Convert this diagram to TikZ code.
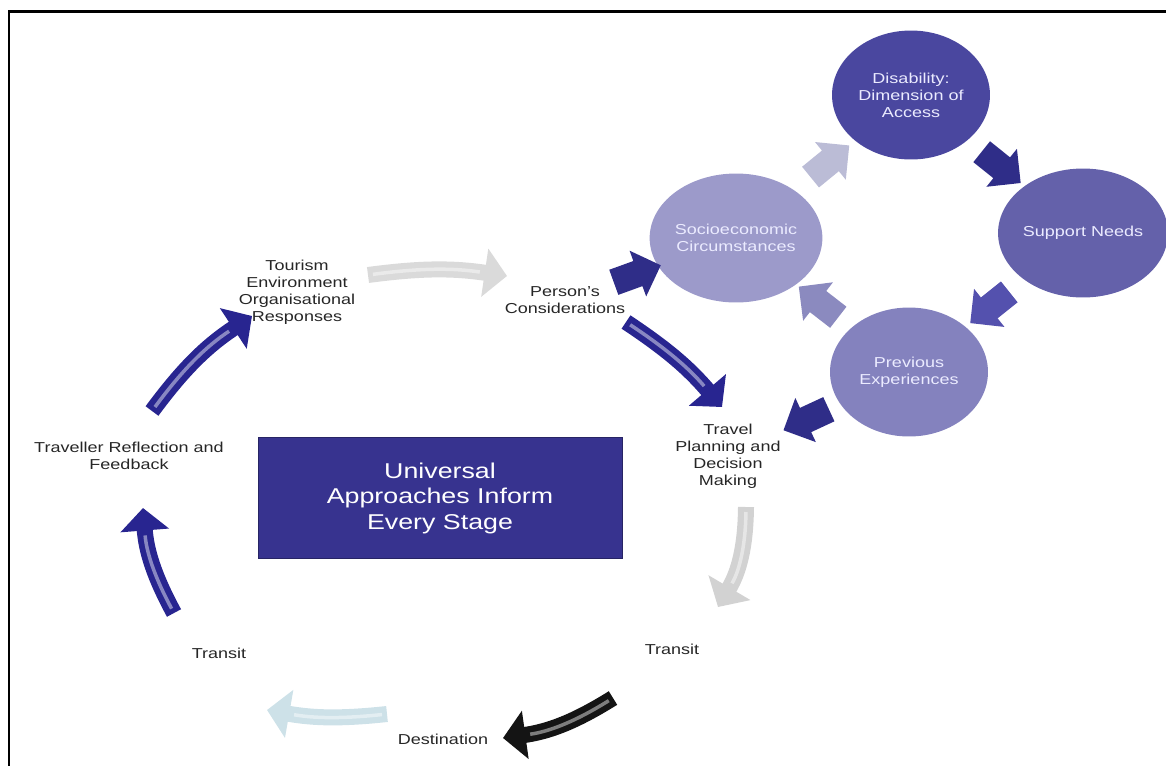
\documentclass[tikz,border=0pt]{standalone}
\usepackage{fontspec}
\setmainfont{Liberation Sans}[FakeStretch=1.25]
\usetikzlibrary{arrows.meta,shapes.geometric,shapes.arrows}
\definecolor{boxblue}{HTML}{37338F}
\definecolor{deepblue}{HTML}{282590}
\definecolor{disabc}{HTML}{4A479F}
\definecolor{supportc}{HTML}{6461AA}
\definecolor{socioc}{HTML}{9C9ACA}
\definecolor{prevc}{HTML}{8482BE}
\definecolor{paleblk}{HTML}{BBBCD6}
\definecolor{deepblk}{HTML}{2F2D88}
\definecolor{midblk}{HTML}{5451AE}
\definecolor{prevblk}{HTML}{8B8ABF}
\definecolor{lightgrey}{HTML}{DADADA}
\definecolor{midgrey}{HTML}{D2D2D2}
\definecolor{icecyan}{HTML}{CDE1E8}
\definecolor{nearblack}{HTML}{141414}

\begin{document}
\begin{tikzpicture}[x=0.02cm,y=-0.02cm,
   every node/.style={font=\fontsize{8.2}{9.7}\selectfont},
   lbl/.style={align=center,text=black!85,inner sep=2pt},
   bubble/.style={ellipse,fill=#1,minimum width=3.16cm,minimum height=2.58cm,
     inner sep=0pt,align=center,text=white!92!blue},
   blk/.style={single arrow,fill=#1,minimum height=1.0cm,inner xsep=0pt,
     inner ysep=0.26cm,single arrow head extend=0.22cm,sloped,allow upside down},
   cyc/.style={draw=#1,line width=0.32cm,-{Triangle[length=0.45cm,width=0.95cm]},
     postaction={draw=white,draw opacity=0.45,line width=0.07cm,-,
       shorten >=0.55cm,shorten <=0.1cm}},
   box/.style={fill=boxblue,draw=boxblue!70!black,minimum width=7.28cm,
     minimum height=2.42cm,align=center,text=white,
     font=\fontsize{12.2}{14.5}\selectfont}]
  \useasboundingbox (0,0) rectangle (1166,765);
  % frame
  \draw[line width=0.06cm] (9,790) -- (9,11) -- (1190,11);

  % centre box
  \node[box] (universal) at (440,498) {Universal\\Approaches Inform\\Every Stage};

  % stages of the journey
  \node[lbl] (tourism) at (297,292) {Tourism\\Environment\\Organisational\\Responses};
  \node[lbl] (persons) at (565,300) {Person's\\Considerations};
  \node[lbl] (travel) at (728,456) {Travel\\Planning and\\Decision\\Making};
  \node[lbl] (transitr) at (672,649) {Transit};
  \node[lbl] (destination) at (443,739) {Destination};
  \node[lbl] (transitl) at (219,653) {Transit};
  \node[lbl] (reflect) at (129,456) {Traveller Reflection and\\Feedback};

  % considerations
  \node[bubble=disabc] (disab) at (911,95) {Disability:\\Dimension of\\Access};
  \node[bubble=supportc] (support) at (1083,233) {Support Needs};
  \node[bubble=socioc] (socio) at (736,238) {Socioeconomic\\Circumstances};
  \node[bubble=prevc] (prev) at (909,372) {Previous\\Experiences};

  \path (socio) -- node[blk=paleblk] {} (disab);
  \path (disab) -- node[blk=deepblk] {} (support);
  \path (support) -- node[blk=midblk] {} (prev);
  \path (prev) -- node[blk=prevblk] {} (socio);
  \path (persons) -- node[blk=deepblk,pos=0.4] {} (socio);
  \path (prev) -- node[blk=deepblk] {} (travel);

  % the cycle
  \path
    ([shift={(71,-17)}]tourism.center) edge[cyc=lightgrey,bend left=8] ([shift={(-58,-24)}]persons.center)
    ([shift={(61,22)}]persons.center) edge[cyc=deepblue,bend left=8] ([shift={(-6,-49)}]travel.center)
    ([shift={(18,51)}]travel.center) edge[cyc=midgrey,bend left=15] ([shift={(46,-42)}]transitr.center)
    ([shift={(-59,49)}]transitr.center) edge[cyc=nearblack,bend left=12] ([shift={(60,-1)}]destination.center)
    ([shift={(-56,-25)}]destination.center) edge[cyc=icecyan,bend left=8] ([shift={(48,57)}]transitl.center)
    ([shift={(-45,-40)}]transitl.center) edge[cyc=deepblue,bend left=12] ([shift={(14,52)}]reflect.center)
    ([shift={(23,-45)}]reflect.center) edge[cyc=deepblue,bend left=10] ([shift={(-45,24)}]tourism.center);
\end{tikzpicture}
\end{document}
